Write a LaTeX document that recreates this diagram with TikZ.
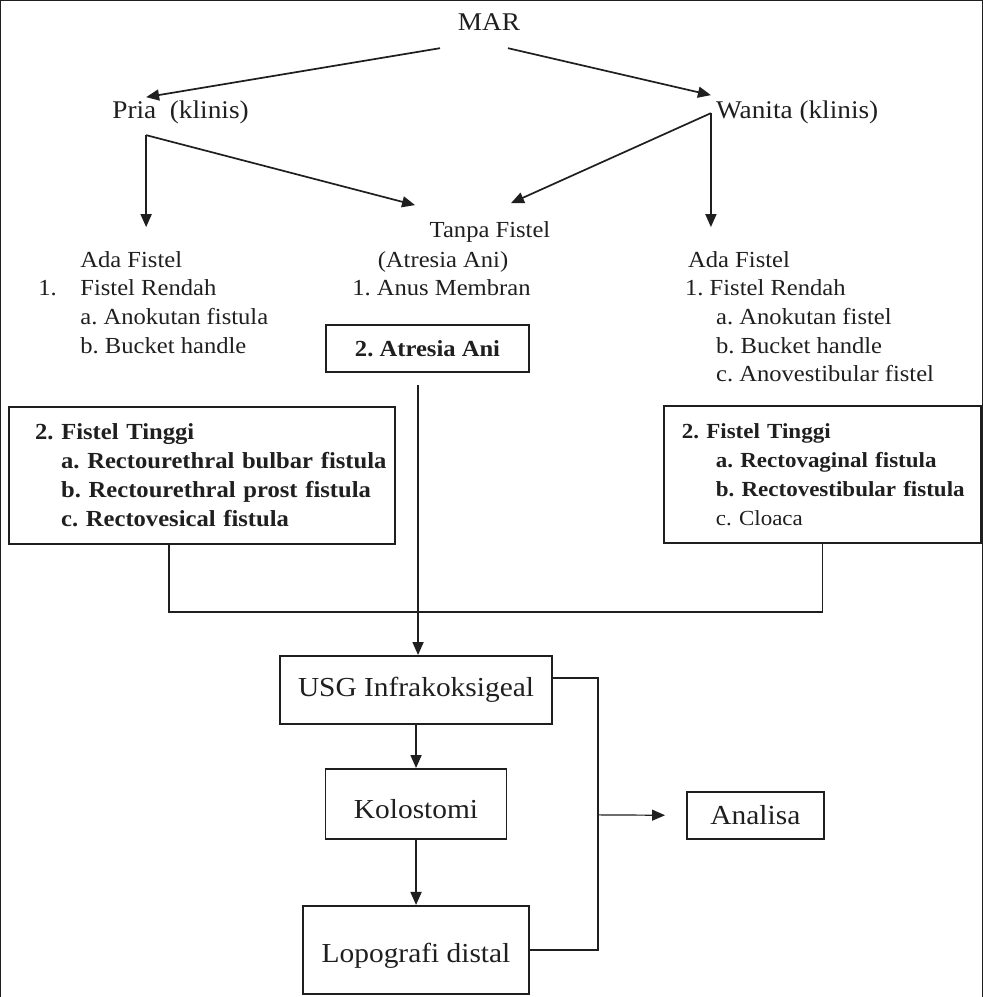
\documentclass[tikz,border=0pt]{standalone}
\usepackage{fontspec}
\setmainfont[FakeStretch=1.07]{Liberation Serif}
\usetikzlibrary{arrows.meta}
\frenchspacing
\begin{document}
\begin{tikzpicture}[x=1pt,y=-1pt,
  every path/.style={draw=black!88},
  txt/.style={inner sep=0pt, font=\fontsize{23}{29}\selectfont, anchor=base west, text=black!88},
  big/.style={inner sep=0pt, font=\fontsize{25.5}{29}\selectfont, anchor=base west, text=black!88},
  box/.style={draw=black!88, line width=1.8pt, inner sep=0pt, text=black!88},
  bigbox/.style={box, font=\fontsize{27.5}{30}\selectfont},
  listbox/.style={box, align=left, font=\fontsize{23}{29}\selectfont},
  conn/.style={line width=1.7pt},
  arr/.style={conn, -{Triangle[length=13pt,width=11pt]}}
]
\useasboundingbox (0,0) rectangle (982,997);

% top level
\node[big, anchor=base] (mar) at (489,30) {MAR};
\node[big] (pria) at (112,118) {Pria\ \ (klinis)};
\node[big] (wanita) at (716,118) {Wanita (klinis)};

% middle column
\node[txt, anchor=base] (tanpa) at (490,237) {Tanpa Fistel};
\node[txt, anchor=base] (atr0) at (443,267) {(Atresia Ani)};
\node[txt] (anus) at (352,295) {1. Anus Membran};
\node[box, font=\fontsize{23}{29}\selectfont\bfseries, minimum width=203pt, minimum height=47pt] (atr) at (427.5,348.5) {2. Atresia Ani};

% left list
\node[txt] (lada) at (80,267) {Ada Fistel};
\node[txt] (lnum) at (38,295) {1.};
\node[txt] (lrend) at (80,295) {Fistel Rendah};
\node[txt] (la) at (80,324) {a. Anokutan fistula};
\node[txt] (lb) at (80,353) {b. Bucket handle};

% right list
\node[txt] (rada) at (688,267) {Ada Fistel};
\node[txt] (rrend) at (685,295) {1. Fistel Rendah};
\node[txt] (ra) at (716,324) {a. Anokutan fistel};
\node[txt] (rb) at (716,353) {b. Bucket handle};
\node[txt] (rc) at (716,381) {c. Anovestibular fistel};

% high fistula boxes
\node[listbox, inner xsep=6pt, text width=374pt, minimum height=137pt] (lbox) at (202,475.5)
  {\hspace*{20pt}\textbf{2. Fistel Tinggi}\\
   \hspace*{46pt}\textbf{a. Rectourethral bulbar fistula}\\
   \hspace*{46pt}\textbf{b. Rectourethral prost fistula}\\
   \hspace*{46pt}\textbf{c. Rectovesical fistula}};
\node[listbox, font=\fontsize{21.5}{29}\selectfont, inner xsep=4pt, text width=309pt, minimum height=137pt] (rbox) at (822.5,474.5)
  {\hspace*{14pt}\textbf{2. Fistel Tinggi}\\
   \hspace*{48pt}\textbf{a. Rectovaginal fistula}\\
   \hspace*{48pt}\textbf{b. Rectovestibular fistula}\\
   \hspace*{48pt}c. Cloaca};

% lower flow
\node[bigbox, minimum width=272pt, minimum height=68pt] (usg) at (416,690) {USG Infrakoksigeal};
\node[bigbox, minimum width=181pt, minimum height=70pt, text height=30pt, text depth=0pt] (kol) at (416,804) {Kolostomi};
\node[bigbox, minimum width=226pt, minimum height=88pt, text height=26pt, text depth=0pt] (lop) at (416,950) {Lopografi distal};
\node[bigbox, minimum width=137pt, minimum height=47pt] (ana) at (755.5,815.5) {Analisa};

% connector coordinates
\coordinate (marL) at (440,48);
\coordinate (marR) at (508,48);
\coordinate (priaT) at (146,97);
\coordinate (wanT) at (711,95);
\coordinate (priaB) at (146,135);
\coordinate (wanB) at (711,113);
\coordinate (ladaT) at (146,227);
\coordinate (radaT) at (711,227);
\coordinate (tanL) at (415,205);
\coordinate (tanR) at (511,203);
\coordinate (vtop) at (418,385);
\coordinate (jr) at (598,815);

\draw[arr] (marL) -- (priaT);
\draw[arr] (marR) -- (wanT);
\draw[arr] (priaB) -- (ladaT);
\draw[arr] (priaB) -- (tanL);
\draw[arr] (wanB) -- (tanR);
\draw[arr] (wanB) -- (radaT);

\draw[arr] (vtop) -- (vtop |- usg.north);
\draw[conn] ([xshift=-33pt]lbox.south) -- ++(0,67) -| (rbox.south);

\draw[arr] (usg.south) -- (kol.north);
\draw[arr] (kol.south) -- (lop.north);
\draw[conn] ([yshift=12pt]usg.east) -| (jr) |- (lop.east);
\draw[arr, line width=1.2pt, shorten >=21pt] (jr) -- (ana.west);
\end{tikzpicture}
\end{document}
